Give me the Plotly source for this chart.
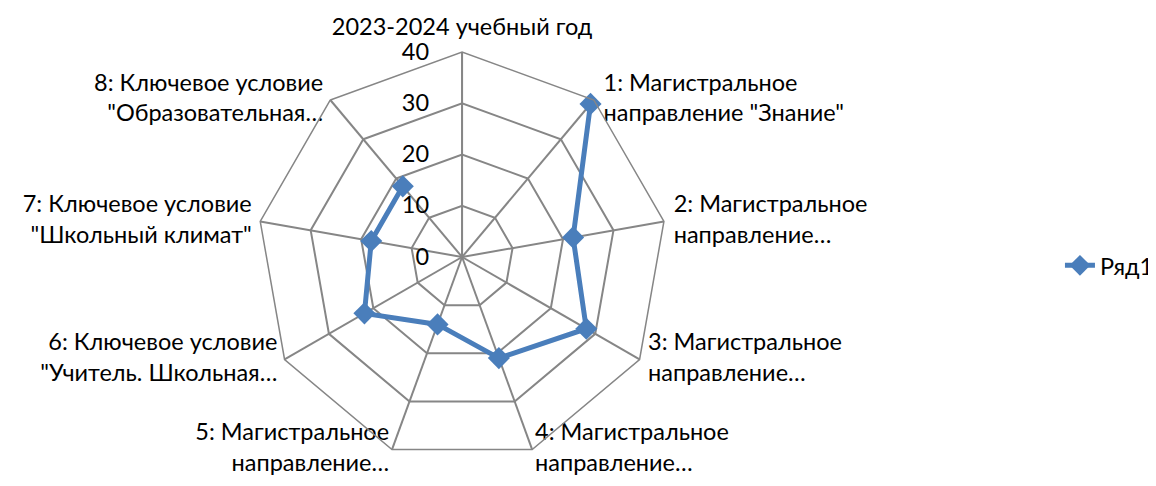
import plotly.graph_objects as go

categories = [
    "2023-2024 учебный год",
    "1: Магистральное<br>направление \"Знание\"",
    "2: Магистральное<br>направление…",
    "3: Магистральное<br>направление…",
    "4: Магистральное<br>направление…",
    "5: Магистральное<br>направление…",
    "6: Ключевое условие<br>\"Учитель. Школьная…",
    "7: Ключевое условие<br>\"Школьный климат\"",
    "8: Ключевое условие<br>\"Образовательная…",
]
values = [None, 39, 22, 28, 21, 14, 22, 18, 18]
series_name = "Ряд1"
radial_ticks = [0, 10, 20, 30, 40]
radial_max = 40

# style: where each category label sits relative to its outer vertex, and its gap
label_positions = ["top center", "middle right", "middle right", "middle right",
                   "middle right", "middle left", "middle left", "middle left",
                   "middle left"]
label_gaps = [16, 14, 14, 12, 3, 3, 10, 12, 10]

BLUE = "#4A7EBB"
GRID = "#868686"
FONT = "Lato, Carlito, 'Open Sans', sans-serif"
FS = 23.5

fig = go.Figure()
# category labels, placed at the outer ring through the polar scales
fig.add_trace(go.Scatterpolar(
    r=[radial_max] * len(categories),
    theta=categories,
    mode="markers+text",
    text=categories,
    textposition=label_positions,
    textfont=dict(family=FONT, size=FS, color="black"),
    marker=dict(size=label_gaps, color="rgba(0,0,0,0)",
                line=dict(width=0, color="rgba(0,0,0,0)")),
    cliponaxis=False,
    showlegend=False,
    hoverinfo="skip",
))
fig.add_trace(go.Scatterpolar(
    r=values,
    theta=categories,
    mode="lines+markers",
    name=series_name,
    connectgaps=False,
    line=dict(color=BLUE, width=5),
    marker=dict(symbol="diamond", size=17, color=BLUE),
))

fig.update_layout(
    width=1156, height=486,
    margin=dict(l=0, r=0, t=0, b=0),
    paper_bgcolor="white",
    font=dict(family=FONT, size=FS, color="black"),
    showlegend=True,
    legend=dict(x=0.91, y=0.47, xanchor="left", yanchor="middle",
                font=dict(size=FS), bgcolor="rgba(0,0,0,0)"),
    polar=dict(
        domain=dict(x=[0.2155, 0.5701], y=[0.0658, 0.9095]),
        bgcolor="white",
        gridshape="linear",
        radialaxis=dict(
            range=[0, radial_max], tickvals=radial_ticks, angle=90, tickangle=90,
            side="counterclockwise",
            showline=True, linecolor=GRID, linewidth=1.5,
            gridcolor=GRID, gridwidth=1.5,
            ticks="outside", ticklen=24, tickcolor="rgba(0,0,0,0)",
            tickfont=dict(size=FS),
        ),
        angularaxis=dict(
            direction="clockwise", rotation=90,
            showline=True, linecolor=GRID, linewidth=1.5,
            gridcolor=GRID, gridwidth=1.5, ticks="",
            showticklabels=False,
        ),
    ),
)

fig.write_html("out.html")
